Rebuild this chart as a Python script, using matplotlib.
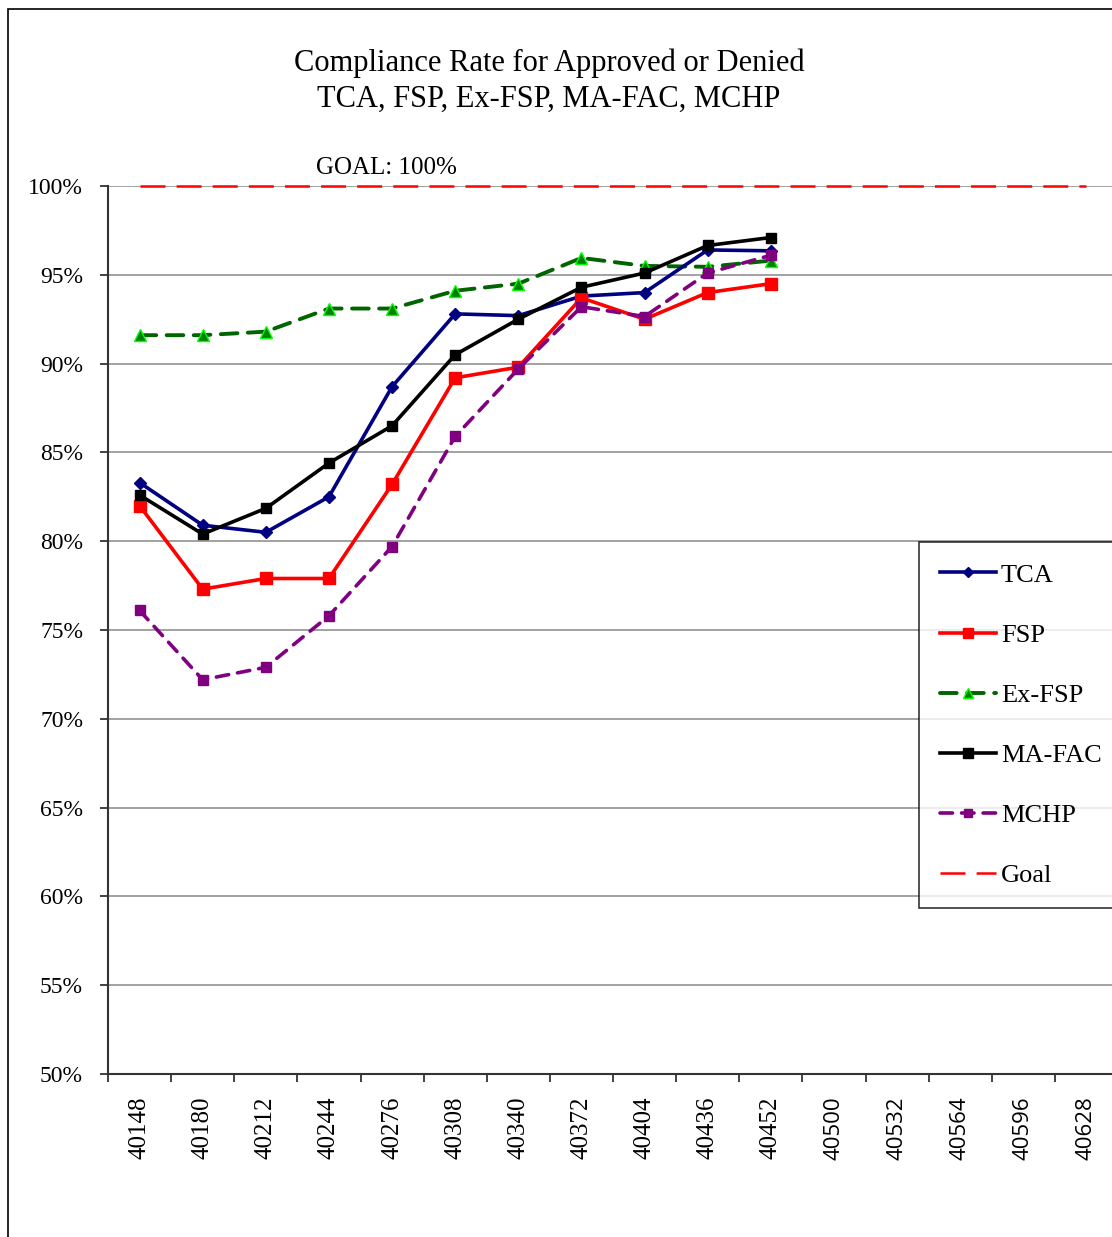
import numpy as np
import matplotlib.pyplot as plt
from matplotlib.patches import Rectangle

plt.rcParams['font.family'] = ['Liberation Serif', 'DejaVu Serif']
plt.rcParams['lines.scale_dashes'] = False

# categories (as printed on the original x axis)
categories = ['40148', '40180', '40212', '40244', '40276', '40308', '40340', '40372',
              '40404', '40436', '40452', '40500', '40532', '40564', '40596', '40628']

# compliance rates in percent, one value per month with data
tca    = [83.3, 80.9, 80.5, 82.5, 88.7, 92.8, 92.7, 93.8, 94.0, 96.4, 96.35]
fsp    = [82.0, 77.3, 77.9, 77.9, 83.2, 89.2, 89.8, 93.7, 92.5, 94.0, 94.5]
ex_fsp = [91.6, 91.6, 91.8, 93.1, 93.1, 94.1, 94.5, 95.95, 95.5, 95.45, 95.8]
ma_fac = [82.6, 80.4, 81.85, 84.4, 86.5, 90.5, 92.5, 94.3, 95.1, 96.65, 97.1]
mchp   = [76.1, 72.2, 72.9, 75.8, 79.7, 85.9, 89.7, 93.2, 92.65, 95.1, 96.1]
goal   = [100.0] * len(categories)

W, H = 1112, 1237
fig = plt.figure(figsize=(W / 100, H / 100), dpi=100)

# outer chart border (cut off at right and bottom like the original)
fig.patches.append(Rectangle((8 / W, -0.05), 1.1, 1 - 9 / H + 0.05, transform=fig.transFigure,
                             fill=False, edgecolor='black', linewidth=1.2))

ax = fig.add_axes([108 / W, 1 - 1074 / H, 1010 / W, (1074 - 186) / H])

x = np.arange(len(categories))
n = len(tca)
ax.plot(x[:n], tca, color='#000080', lw=2.6, marker='D', ms=6, label='TCA', zorder=4)
ax.plot(x[:n], fsp, color='red', lw=2.6, marker='s', ms=8, label='FSP', zorder=4)
ax.plot(x[:n], ex_fsp, color='#006400', lw=2.8, dashes=(12, 7.5), marker='^', ms=8,
        mfc='#008000', mec='#00ff00', mew=1, label='Ex-FSP', zorder=3, dash_capstyle='round')
ax.plot(x[:n], ma_fac, color='black', lw=2.6, marker='s', ms=7.5, label='MA-FAC', zorder=5)
ax.plot(x[:n], mchp, color='#800080', lw=2.6, dashes=(9, 6.5), marker='s', ms=7,
        label='MCHP', zorder=4, dash_capstyle='round')
ax.plot(x, goal, color='red', lw=1.8, dashes=(18, 8), label='Goal', zorder=3, clip_on=False)

ax.set_xlim(-0.5, len(categories) - 0.5)
ax.set_ylim(50, 100)
yt = np.arange(50, 101, 5)
ax.set_yticks(yt)
ax.set_yticklabels([f'{v}%' for v in yt], fontsize=17)
ax.yaxis.grid(True, color='#9a9a9a', lw=1.3)
ax.set_axisbelow(True)

ax.set_xticks(x)
ax.set_xticklabels(categories, rotation=90, fontsize=18)
ax.tick_params(axis='x', which='major', length=0, pad=16)
ax.set_xticks(np.arange(-0.5, len(categories)), minor=True)
ax.tick_params(axis='x', which='minor', length=6, width=1.3, color='#333333')
ax.tick_params(axis='y', length=6, width=1.3, color='#333333', pad=12)
for lab in ax.get_xticklabels()[11:]:
    lab.set_family('Open Sans')
    lab.set_fontsize(16)

for s in ['top', 'right']:
    ax.spines[s].set_visible(False)
for s in ['left', 'bottom']:
    ax.spines[s].set_color('#333333')
    ax.spines[s].set_linewidth(1.5)

fig.text(549 / W, 1 - 63 / H, 'Compliance Rate for Approved or Denied',
         ha='center', va='center', fontsize=22)
fig.text(549 / W, 1 - 99 / H, 'TCA, FSP, Ex-FSP, MA-FAC, MCHP',
         ha='center', va='center', fontsize=22)
fig.text(386 / W, 1 - 168 / H, 'GOAL: 100%', ha='center', va='center', fontsize=18)

leg = fig.legend(loc='upper left', bbox_to_anchor=(919 / W, 1 - 542 / H),
                 fontsize=19, frameon=True, fancybox=False, edgecolor='black',
                 handlelength=2.1, handletextpad=0.2, labelspacing=1.39,
                 borderpad=0.8, borderaxespad=0, markerscale=0.9)
leg.get_frame().set_linewidth(1.2)

fig.savefig('out.png', dpi=100)
